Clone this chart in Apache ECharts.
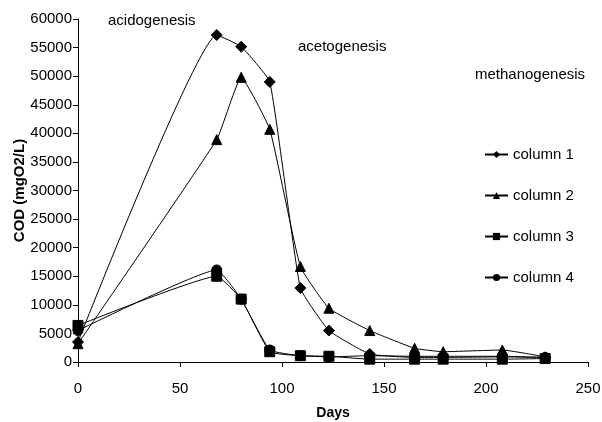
<!DOCTYPE html>
<html>
<head>
<meta charset="utf-8">
<script src="https://cdn.jsdelivr.net/npm/echarts@6/dist/echarts.min.js"></script>
<style>html,body{margin:0;padding:0;background:#fff}#c{width:602px;height:422px}</style>
</head>
<body>
<div id="c"></div>
<script>
var days = [0, 68, 80, 94, 109, 123, 143, 165, 179, 208, 229];
var column1 = [3500, 57200, 55150, 49000, 12950, 5500, 1400, 800, 800, 900, 800];
var column2 = [3200, 38900, 49800, 40700, 16700, 9400, 5500, 2400, 1800, 2100, 900];
var column3 = [6400, 15000, 11000, 1800, 1100, 1000, 500, 500, 500, 500, 600];
var column4 = [5500, 16100, 11000, 2100, 1100, 900, 1100, 1000, 1000, 1000, 800];
var seriesNames = ['column 1', 'column 2', 'column 3', 'column 4'];
var symbols = ['diamond', 'triangle', 'rect', 'circle'];
var phases = ['acidogenesis', 'acetogenesis', 'methanogenesis'];

function pairs(v){ return days.map(function(d,i){ return [d, v[i]]; }); }
var allData = [column1, column2, column3, column4];
var font = 'Liberation Sans, Arial, sans-serif';
var tfont = '15px Liberation Sans, Arial, sans-serif';

var chart = echarts.init(document.getElementById('c'));
chart.setOption({
  animation: false,
  backgroundColor: '#fff',
  grid: {left: 78, right: 14, top: 19, bottom: 60, containLabel: false, outerBoundsMode: 'none'},
  xAxis: {
    type: 'value', min: 0, max: 250, interval: 50,
    name: 'Days', nameLocation: 'middle', nameGap: 44, nameMoveOverlap: false,
    nameTextStyle: {fontFamily: font, fontWeight: 'bold', fontSize: 14, color: '#000', verticalAlign: 'top'},
    axisLine: {lineStyle: {color: '#000', width: 1}},
    axisTick: {inside: false, length: 5, lineStyle: {color: '#000'}},
    axisLabel: {fontFamily: font, fontSize: 15, color: '#000', margin: 19, formatter: function(v){ return String(v); }},
    splitLine: {show: false}
  },
  yAxis: {
    type: 'value', min: 0, max: 60000, interval: 5000,
    name: 'COD (mgO2/L)', nameLocation: 'middle', nameGap: 51, nameRotate: 90, nameMoveOverlap: false,
    nameTextStyle: {fontFamily: font, fontWeight: 'bold', fontSize: 15, color: '#000'},
    axisLine: {show: true, lineStyle: {color: '#000', width: 1}},
    axisTick: {show: true, length: 5, lineStyle: {color: '#000'}},
    axisLabel: {fontFamily: font, fontSize: 15, color: '#000', margin: 6, formatter: function(v){ return String(v); }},
    splitLine: {show: false}
  },
  legend: {
    orient: 'vertical', left: 479, top: 142, itemGap: 26,
    itemWidth: 23, itemHeight: 9,
    textStyle: {fontFamily: font, fontSize: 15, color: '#000'},
    data: seriesNames
  },
  graphic: [
    {type: 'text', left: 108, top: 13, style: {text: phases[0], font: tfont, fill: '#000'}},
    {type: 'text', left: 298, top: 39, style: {text: phases[1], font: tfont, fill: '#000'}},
    {type: 'text', left: 475, top: 67, style: {text: phases[2], font: tfont, fill: '#000'}}
  ],
  series: seriesNames.map(function(n, i){
    return {
      name: n, type: 'line', smooth: 0.12,
      data: pairs(allData[i]),
      symbol: symbols[i], symbolSize: i === 0 ? 11 : 10,
      showAllSymbol: true,
      lineStyle: {color: '#000', width: 1},
      itemStyle: {color: '#000', borderColor: '#000'},
      z: 2 + i
    };
  })
});
</script>
</body>
</html>
